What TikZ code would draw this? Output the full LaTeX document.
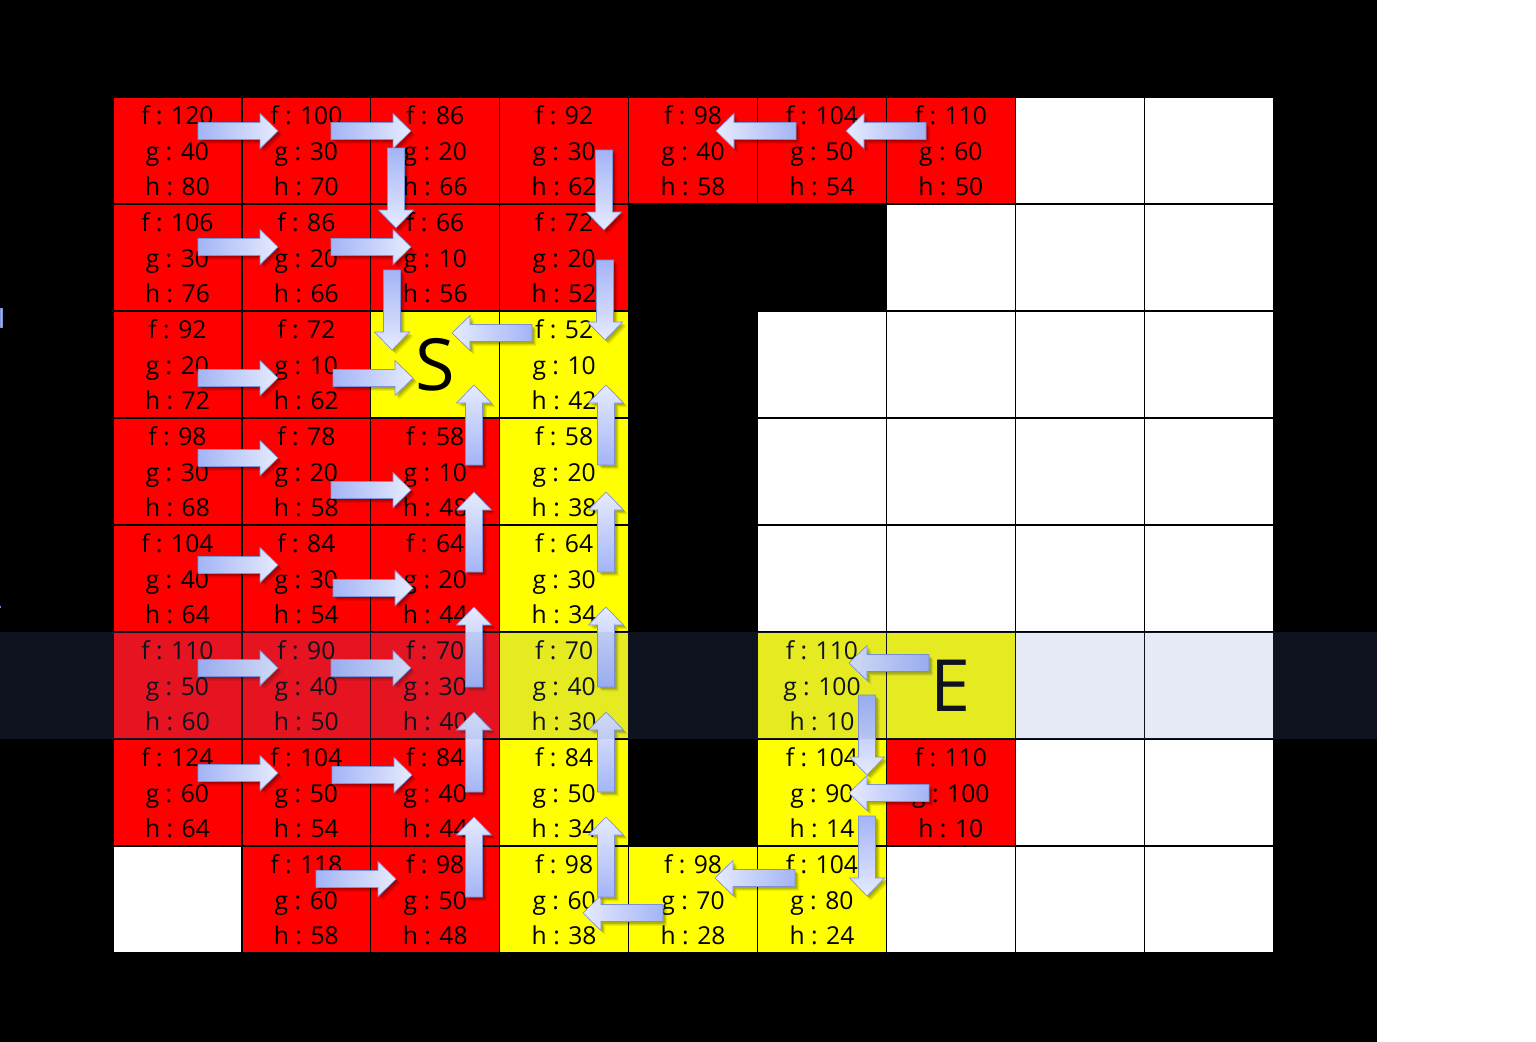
\documentclass[tikz,border=0pt]{standalone}
\usepackage{fontspec}
\setmainfont{Open Sans}
\usetikzlibrary{shadows}
\definecolor{arrdark}{RGB}{163,180,246}
\definecolor{arrlight}{RGB}{230,235,253}
\definecolor{arredge}{RGB}{125,145,214}
\definecolor{bandc}{RGB}{96,127,204}
\definecolor{cellred}{RGB}{255,0,0}
\definecolor{cellyel}{RGB}{255,255,0}
\tikzset{
  blockarr/.style={draw=arredge, line width=0.5pt, line join=miter,
    drop shadow={shadow xshift=3.2pt, shadow yshift=-3.2pt, opacity=0.08, fill=black},
    drop shadow={shadow xshift=2.4pt, shadow yshift=-2.4pt, opacity=0.12, fill=black},
    drop shadow={shadow xshift=1.5pt, shadow yshift=-1.5pt, opacity=0.15, fill=black}},
  lbl/.style={anchor=base, inner sep=0pt, font=\fontsize{18.5pt}{22pt}\selectfont, text=black},
  bigletter/.style={inner sep=0pt, font=\fontsize{54pt}{60pt}\selectfont, text=black},
  gridln/.style={black, line width=0.9pt},
}
\newcommand\ArR[2]{\path[blockarr, left color=arrdark, right color=arrlight]
  (#1,#2) ++(0,-8.5) -- ++(62,0) -- ++(0,-9) -- ++(18,17.5) -- ++(-18,17.5) -- ++(0,-9) -- ++(-62,0) -- cycle;}
\newcommand\ArL[2]{\path[blockarr, left color=arrlight, right color=arrdark]
  (#1,#2) ++(0,-8.5) -- ++(-62,0) -- ++(0,-9) -- ++(-18,17.5) -- ++(18,17.5) -- ++(0,-9) -- ++(62,0) -- cycle;}
\newcommand\ArD[2]{\path[blockarr, top color=arrdark, bottom color=arrlight]
  (#1,#2) ++(-8.5,0) -- ++(0,62) -- ++(-9,0) -- ++(17.5,18) -- ++(17.5,-18) -- ++(-9,0) -- ++(0,-62) -- cycle;}
\newcommand\ArU[2]{\path[blockarr, bottom color=arrdark, top color=arrlight]
  (#1,#2) ++(-8.5,0) -- ++(0,-62) -- ++(-9,0) -- ++(17.5,-18) -- ++(17.5,18) -- ++(-9,0) -- ++(0,62) -- cycle;}
\begin{document}
\begin{tikzpicture}[x=0.75pt,y=-0.75pt]
\useasboundingbox (0,0) rectangle (1536,1042);
% background
\fill[black] (0,0) rectangle (1377,1042);
\fill[white] (1377,0) rectangle (1536,1042);
% white cells
\foreach \c/\r in {7/0,8/0,6/1,7/1,8/1,5/2,6/2,7/2,8/2,5/3,6/3,7/3,8/3,5/4,6/4,7/4,8/4,7/5,8/5,7/6,8/6,0/7,6/7,7/7,8/7}{
  \pgfmathsetmacro\xa{113+128.9*\c}
  \pgfmathsetmacro\ya{97+107*\r}
  \fill[white] (\xa,\ya) rectangle ++(128.9,107);
}
% start / end cells
\fill[cellyel] (370.8,311) rectangle ++(128.9,107);
\fill[cellyel] (886.4,632) rectangle ++(128.9,107);
% cells with values
\foreach \c/\r/\clr in {
 0/0/cellred, 1/0/cellred, 2/0/cellred, 3/0/cellred, 4/0/cellred, 5/0/cellred, 6/0/cellred,
 0/1/cellred, 1/1/cellred, 2/1/cellred, 3/1/cellred,
 0/2/cellred, 1/2/cellred, 3/2/cellyel,
 0/3/cellred, 1/3/cellred, 2/3/cellred, 3/3/cellyel,
 0/4/cellred, 1/4/cellred, 2/4/cellred, 3/4/cellyel,
 0/5/cellred, 1/5/cellred, 2/5/cellred, 3/5/cellyel, 5/5/cellyel,
 0/6/cellred, 1/6/cellred, 2/6/cellred, 3/6/cellyel, 5/6/cellyel, 6/6/cellred,
 1/7/cellred, 2/7/cellred, 3/7/cellyel, 4/7/cellyel, 5/7/cellyel}{
  \pgfmathsetmacro\xa{113+128.9*\c}
  \pgfmathsetmacro\ya{97+107*\r}
  \fill[\clr] (\xa,\ya) rectangle ++(128.9,107);
}
% grid
\foreach \i in {0,...,9}{ \draw[gridln] ({113+128.9*\i},97) -- ({113+128.9*\i},953); }
\foreach \j in {0,...,8}{ \draw[gridln] (113,{97+107*\j}) -- (1273,{97+107*\j}); }
% texts
\foreach \c/\r/\f/\g/\h in {
 0/0/120/40/80, 1/0/100/30/70, 2/0/86/20/66, 3/0/92/30/62, 4/0/98/40/58, 5/0/104/50/54, 6/0/110/60/50,
 0/1/106/30/76, 1/1/86/20/66, 2/1/66/10/56, 3/1/72/20/52,
 0/2/92/20/72, 1/2/72/10/62, 3/2/52/10/42,
 0/3/98/30/68, 1/3/78/20/58, 2/3/58/10/48, 3/3/58/20/38,
 0/4/104/40/64, 1/4/84/30/54, 2/4/64/20/44, 3/4/64/30/34,
 0/5/110/50/60, 1/5/90/40/50, 2/5/70/30/40, 3/5/70/40/30, 5/5/110/100/10,
 0/6/124/60/64, 1/6/104/50/54, 2/6/84/40/44, 3/6/84/50/34, 5/6/104/90/14, 6/6/110/100/10,
 1/7/118/60/58, 2/7/98/50/48, 3/7/98/60/38, 4/7/98/70/28, 5/7/104/80/24}{
  \pgfmathsetmacro\xc{113+128.9*\c+64.45}
  \pgfmathsetmacro\ya{97+107*\r}
  \node[lbl] (f-\c-\r) at (\xc,\ya+27.5) {f : \f};
  \node[lbl] (g-\c-\r) at (\xc,\ya+63) {g : \g};
  \node[lbl] (h-\c-\r) at (\xc,\ya+98) {h : \h};
}
\node[bigletter] (S) at (435.3,365) {S};
\node[bigletter] (E) at (950.9,686) {E};
% arrows: right
\ArR{198}{131} \ArR{331}{131}
\ArR{198}{247} \ArR{331}{247}
\ArR{198}{378} \ArR{333}{378}
\ArR{198}{458} \ArR{331}{490}
\ArR{198}{565} \ArR{333}{588}
\ArR{198}{668} \ArR{331}{668}
\ArR{198}{773} \ArR{332}{775}
\ArR{316}{879}
% left
\ArL{796}{131} \ArL{926}{131}
\ArL{532}{333}
\ArL{929}{663} \ArL{929}{793}
\ArL{795}{878} \ArL{663}{913}
% down
\ArD{396}{148} \ArD{392}{270}
\ArD{604}{150} \ArD{605}{260}
\ArD{867}{695} \ArD{867}{816}
% up
\foreach \t in {465,572,687,792,897}{ \ArU{474}{\t} \ArU{606}{\t} }
% highlight band
\fill[bandc, opacity=0.157] (0,632) rectangle (1377,739);
% slivers at left edge
\fill[arrdark, draw=arredge, line width=0.5pt] (0,308) rectangle (2,327);
\fill[arredge] (0,606) rectangle (1.5,608);
\end{tikzpicture}
\end{document}
